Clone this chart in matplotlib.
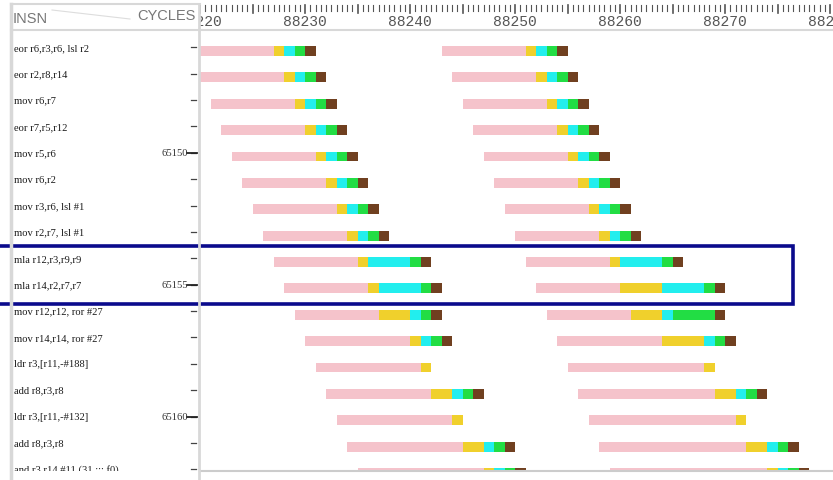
import matplotlib
matplotlib.use('Agg')
import matplotlib.pyplot as plt
from matplotlib.lines import Line2D
from matplotlib.patches import Rectangle

# instruction labels, one per row
insns = ['eor r6,r3,r6, lsl r2', 'eor r2,r8,r14', 'mov r6,r7', 'eor r7,r5,r12',
         'mov r5,r6', 'mov r6,r2', 'mov r3,r6, lsl #1', 'mov r2,r7, lsl #1',
         'mla r12,r3,r9,r9', 'mla r14,r2,r7,r7', 'mov r12,r12, ror #27',
         'mov r14,r14, ror #27', 'ldr r3,[r11,-#188]', 'add r8,r3,r8',
         'ldr r3,[r11,-#132]', 'add r8,r3,r8', 'and r3,r14,#11 (31 ;;; f0)']
addr_rows = [4, 9, 14]
addr_text = ['65150', '65155', '65160']

# stage boundaries (cycles): fetch, decode, exec, mem, writeback, end
iter1 = [
    (88219, 88227, 88228, 88229, 88230, 88231),
    (88220, 88228, 88229, 88230, 88231, 88232),
    (88221, 88229, 88230, 88231, 88232, 88233),
    (88222, 88230, 88231, 88232, 88233, 88234),
    (88223, 88231, 88232, 88233, 88234, 88235),
    (88224, 88232, 88233, 88234, 88235, 88236),
    (88225, 88233, 88234, 88235, 88236, 88237),
    (88226, 88234, 88235, 88236, 88237, 88238),
    (88227, 88235, 88236, 88240, 88241, 88242),
    (88228, 88236, 88237, 88241, 88242, 88243),
    (88229, 88237, 88240, 88241, 88242, 88243),
    (88230, 88240, 88241, 88242, 88243, 88244),
    (88231, 88241, 88242),
    (88232, 88242, 88244, 88245, 88246, 88247),
    (88233, 88244, 88245),
    (88234, 88245, 88247, 88248, 88249, 88250),
    (88235, 88247, 88248, 88249, 88250, 88251),
]
iter2 = [
    (88243, 88251, 88252, 88253, 88254, 88255),
    (88244, 88252, 88253, 88254, 88255, 88256),
    (88245, 88253, 88254, 88255, 88256, 88257),
    (88246, 88254, 88255, 88256, 88257, 88258),
    (88247, 88255, 88256, 88257, 88258, 88259),
    (88248, 88256, 88257, 88258, 88259, 88260),
    (88249, 88257, 88258, 88259, 88260, 88261),
    (88250, 88258, 88259, 88260, 88261, 88262),
    (88251, 88259, 88260, 88264, 88265, 88266),
    (88252, 88260, 88264, 88268, 88269, 88270),
    (88253, 88261, 88264, 88265, 88269, 88270),
    (88254, 88264, 88268, 88269, 88270, 88271),
    (88255, 88268, 88269),
    (88256, 88269, 88271, 88272, 88273, 88274),
    (88257, 88271, 88272),
    (88258, 88272, 88274, 88275, 88276, 88277),
    (88259, 88274, 88275, 88276, 88277, 88278),
]
tick_labels = [88220, 88230, 88240, 88250, 88260, 88270, 88280]
highlight_rows = (8, 9)
highlight_end = 88276.5

stage_colors = ['#f5c3cb', '#f0d02c', '#22eeee', '#22dd44', '#704020']

W, H = 833, 481
def fx(px):
    return px / W
def fy(py):
    return 1 - py / H

fig = plt.figure(figsize=(W / 100, H / 100), dpi=100)
fig.patch.set_facecolor('white')

x0 = 88220
px_per_cycle = 10.5
xmax = x0 + (W - 200) / px_per_cycle
row0_px, row_px = 52, 26.375
top_px, bot_px = 31, 472
ylim = ((bot_px - row0_px) / row_px, (top_px - row0_px) / row_px)

# label panel
ax_lab = fig.add_axes([0, fy(bot_px), fx(200), (bot_px - top_px) / H])
ax_lab.set_xlim(0, 200)
ax_lab.set_ylim(*ylim)
ax_lab.axis('off')
for i, s in enumerate(insns):
    ax_lab.text(14, i - 0.14, s, fontsize=7.6, family='Liberation Serif',
                color='#1a1a1a', va='center', ha='left', clip_on=True)
    ax_lab.plot([191, 196], [i - 0.14, i - 0.14], color='#444444', lw=0.9)
for r, t in zip(addr_rows, addr_text):
    ax_lab.text(188, r - 0.14, t, fontsize=7.6, family='Liberation Serif',
                color='#333333', va='center', ha='right')
    ax_lab.plot([187, 197], [r - 0.14, r - 0.14], color='#222222', lw=1.3)

# pipeline bars
ax = fig.add_axes([fx(200), fy(bot_px), 1 - fx(200), (bot_px - top_px) / H])
ax.set_xlim(x0, xmax)
ax.set_ylim(*ylim)
for it in (iter1, iter2):
    for i, b in enumerate(it):
        for k in range(len(b) - 1):
            ax.barh(i, b[k + 1] - b[k], left=b[k], height=0.37,
                    color=stage_colors[k], linewidth=0)
for sp in ['top', 'left', 'right']:
    ax.spines[sp].set_visible(False)
ax.spines['bottom'].set_color('#cccccc')
ax.spines['bottom'].set_linewidth(1.5)
ax.set_xticks([])
ax.set_yticks([])

# highlight box around the mla rows
ax.add_patch(Rectangle((x0 - 25, highlight_rows[0] - 0.62), highlight_end - (x0 - 25),
                       highlight_rows[1] - highlight_rows[0] + 1.2, fill=False,
                       edgecolor='#0a0a8c', lw=2.6, clip_on=False, zorder=5))

# cycle ruler
ax_r = fig.add_axes([fx(200), fy(top_px), 1 - fx(200), top_px / H])
ax_r.set_xlim(x0, xmax)
ax_r.set_ylim(top_px, 0)
ax_r.axis('off')
t = x0 - 0.5
while t < xmax:
    big = (t % 5 == 0)
    ax_r.plot([t, t], [6, 14 if big else 12], color='#555555',
              lw=1.2 if big else 0.8)
    t += 0.5
for v in tick_labels:
    ax_r.text(v, 22, str(v), fontsize=10.5, family='Liberation Mono',
              color='#555555', ha='center', va='center', clip_on=True)

# panel borders and header
for (xa, ya, xb, yb, c, lw) in [(11, 5, 11, H, '#d8d8d8', 2.5),
                                (199, 5, 199, H, '#d8d8d8', 2),
                                (11, 5, 200, 5, '#d8d8d8', 1.5),
                                (11, 31, W, 31, '#d8d8d8', 1.5),
                                (52, 11, 130, 20, '#dddddd', 0.8)]:
    fig.add_artist(Line2D([fx(xa), fx(xb)], [fy(ya), fy(yb)], color=c, lw=lw,
                          transform=fig.transFigure))
fig.text(fx(13), fy(19), 'INSN', fontsize=10.5, family='Liberation Sans',
         color='#777777', va='center', ha='left')
fig.text(fx(196), fy(16), 'CYCLES', fontsize=10.5, family='Liberation Sans',
         color='#777777', va='center', ha='right')

fig.savefig('out.png', dpi=100)
